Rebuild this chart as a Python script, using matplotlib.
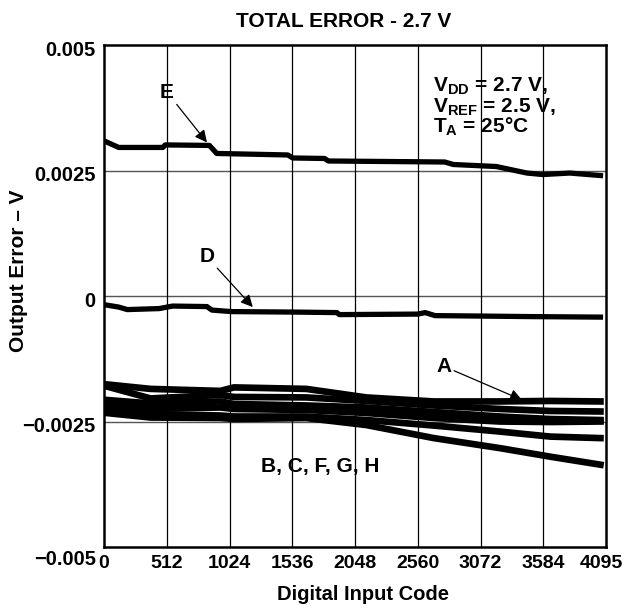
"""Total error vs digital input code, 2.7 V supply."""
import matplotlib
matplotlib.use("Agg")
import matplotlib.pyplot as plt
from matplotlib.transforms import ScaledTranslation

plt.rcParams["font.family"] = ["Liberation Sans", "DejaVu Sans"]
plt.rcParams["font.weight"] = "bold"
plt.rcParams["mathtext.fontset"] = "custom"
plt.rcParams["mathtext.rm"] = "Liberation Sans:bold"
plt.rcParams["mathtext.bf"] = "Liberation Sans:bold"

# curve E (upper)
E_CODE = [20, 120, 480, 500, 860, 920, 1500, 1540, 1800, 1830, 2780, 2850,
          3200, 3450, 3580, 3800, 4050]
E_ERR = [0.00307, 0.00296, 0.00296, 0.00301, 0.00300, 0.00284, 0.00281,
         0.00275, 0.00274, 0.00269, 0.00267, 0.00262, 0.00258, 0.00245,
         0.00242, 0.00245, 0.00240]

# curve D (near zero)
D_CODE = [20, 120, 190, 450, 560, 840, 880, 1040, 1560, 1900, 1920, 2560,
          2620, 2700, 3500, 4050]
D_ERR = [-0.00018, -0.00022, -0.00027, -0.00025, -0.00020, -0.00021,
         -0.00028, -0.00031, -0.00032, -0.00033, -0.00037, -0.00036,
         -0.00033, -0.00039, -0.00041, -0.00042]

# lower bundle: A, B, C, F, G, H
LOW_CODE = [20, 380, 950, 1060, 1650, 2140, 2690, 3230, 3640, 4050]
A_ERR = [-0.00176, -0.00185, -0.00189, -0.00182, -0.00185, -0.00202,
         -0.00210, -0.00210, -0.00209, -0.00210]
B_ERR = [-0.00180, -0.00204, -0.00197, -0.00201, -0.00202, -0.00209,
         -0.00218, -0.00225, -0.00229, -0.00230]
C_ERR = [-0.00207, -0.00214, -0.00210, -0.00215, -0.00218, -0.00222,
         -0.00231, -0.00240, -0.00245, -0.00247]
F_ERR = [-0.00215, -0.00225, -0.00222, -0.00225, -0.00227, -0.00233,
         -0.00243, -0.00250, -0.00251, -0.00250]
G_ERR = [-0.00225, -0.00235, -0.00238, -0.00240, -0.00240, -0.00247,
         -0.00258, -0.00270, -0.00280, -0.00283]
H_ERR = [-0.00233, -0.00242, -0.00243, -0.00245, -0.00243, -0.00257,
         -0.00283, -0.00303, -0.00320, -0.00336]

X_TICKS = [0, 512, 1024, 1536, 2048, 2560, 3072, 3584, 4095]
Y_TICKS = [-0.005, -0.0025, 0, 0.0025, 0.005]
Y_LABELS = ["\u22120.005", "\u22120.0025", "0", "0.0025", "0.005"]

fig = plt.figure(figsize=(6.26, 6.11), dpi=100)
ax = fig.add_axes([0.1661, 0.1047, 0.8019, 0.8216])

for y in [-0.0025, 0, 0.0025]:
    ax.axhline(y, color="#555555", linewidth=1.0, zorder=1)
for x in X_TICKS[1:-1]:
    ax.axvline(x, color="black", linewidth=0.9, zorder=1)

ax.plot(E_CODE, E_ERR, color="black", linewidth=3.8, zorder=2)
ax.plot(D_CODE, D_ERR, color="black", linewidth=3.8, zorder=2)
for err in [A_ERR, B_ERR, C_ERR, F_ERR, G_ERR, H_ERR]:
    ax.plot(LOW_CODE, err, color="black", linewidth=4.8, zorder=2)

ax.set_xlim(0, 4095)
ax.set_ylim(-0.005, 0.005)
ax.set_xticks(X_TICKS)
ax.set_yticks(Y_TICKS)
ax.set_yticklabels(Y_LABELS)
ax.tick_params(length=0, labelsize=14.5, pad=6)
ax.tick_params(axis="x", labelsize=14)
to_px = lambda dx, dy: ScaledTranslation(dx / 100, dy / 100, fig.dpi_scale_trans)
for lab in ax.get_yticklabels():
    dy = -10 if lab.get_text() == "\u22120.005" else -3
    lab.set_transform(lab.get_transform() + to_px(0, dy))
last = ax.get_xticklabels()[-1]
last.set_transform(last.get_transform() + to_px(-5, 0))
for s in ax.spines.values():
    s.set_linewidth(1.8)

ax.set_title("TOTAL ERROR - 2.7 V", fontsize=15, fontweight="bold", pad=13, x=0.478)
ax.set_xlabel("Digital Input Code", fontsize=14.5, fontweight="bold")
ax.xaxis.set_label_coords(0.515, -0.075)
ax.set_ylabel("Output Error \u2013 V", fontsize=15, fontweight="bold")
ax.yaxis.set_label_coords(-0.152, 0.55)

arrow = dict(arrowstyle="-|>", color="black", linewidth=0.9,
             mutation_scale=18, shrinkA=0, shrinkB=0)
ax.annotate("E", xy=(840, 0.00306), xytext=(514, 0.00406), fontsize=15,
            ha="center", va="center", arrowprops=arrow)
ax.annotate("D", xy=(1214, -0.00022), xytext=(840, 0.00078), fontsize=15,
            ha="center", va="center", arrowprops=arrow)
ax.annotate("A", xy=(3410, -0.00207), xytext=(2772, -0.00140), fontsize=15,
            ha="center", va="center", arrowprops=arrow)
ax.text(1760, -0.00340, "B, C, F, G, H", fontsize=15, ha="center", va="center")

ax.text(2684, 0.00417, r"V$_{\mathrm{DD}}$ = 2.7 V,", fontsize=15, va="center")
ax.text(2684, 0.00377, r"V$_{\mathrm{REF}}$ = 2.5 V,", fontsize=15, va="center")
ax.text(2684, 0.00337, "T$_{\\mathrm{A}}$ = 25\u00b0C", fontsize=15, va="center")

fig.savefig("out.png", dpi=100)
